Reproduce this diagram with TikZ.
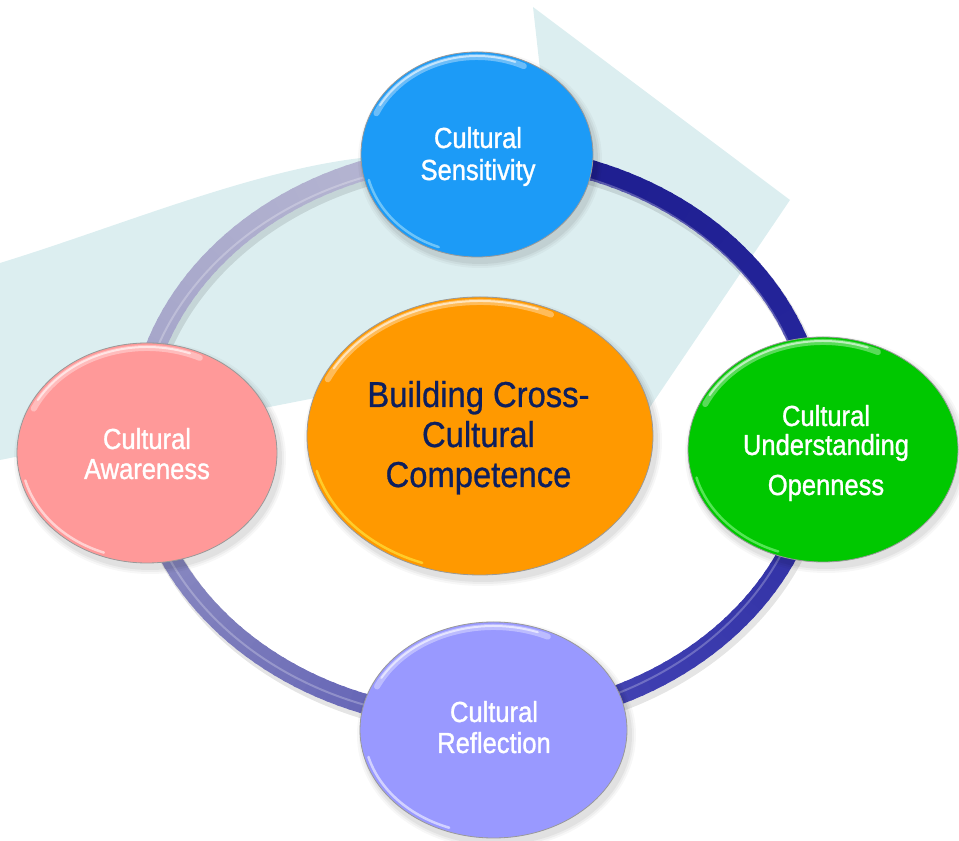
\documentclass[tikz,border=0pt]{standalone}
\usepackage{fontspec}
\setmainfont{Liberation Sans}
\newfontfamily\labelfont[FakeBold=1.2]{Liberation Sans}
\newfontfamily\titlefont[FakeBold=0.8]{Liberation Sans}
\usetikzlibrary{shapes.geometric}

\definecolor{arrowbg}{HTML}{DCEEF0}
\definecolor{titlenavy}{HTML}{0D1F5E}
\definecolor{sensblue}{HTML}{1C9BF7}
\definecolor{centerorange}{HTML}{FF9900}
\definecolor{undergreen}{HTML}{00C800}
\definecolor{awarepink}{HTML}{FF9999}
\definecolor{reflavender}{HTML}{9999FF}
% ring colour stops, light (upper left) to dark (upper right)
\definecolor{ringA}{HTML}{B6B6D2}
\definecolor{ringB}{HTML}{A6A6CA}
\definecolor{ringC}{HTML}{7676BA}
\definecolor{ringD}{HTML}{3E3EB0}
\definecolor{ringE}{HTML}{24249A}
\definecolor{ringF}{HTML}{1C1C8C}

\newcommand\narrowtext[2]{\scalebox{#1}[1]{#2}}

% glossy bubble: name, centre x, centre y, x radius, y radius, fill, rim colour
\newcommand\bubble[7]{%
  \foreach \s/\o in {6/0.03,4/0.04,2/0.05}
    \fill[black, opacity=\o] (#2+3,#3-5) ellipse[x radius=#4+\s, y radius=#5+\s];
  \node[ellipse, draw=black!40, line width=.8pt, fill=#6,
        minimum width=2*#4, minimum height=2*#5, inner sep=0pt] (#1) at (#2,#3) {};
  \pgfmathsetmacro\rxa{#4-5}\pgfmathsetmacro\rya{#5-5}%
  \pgfmathsetmacro\rxb{#4-4}\pgfmathsetmacro\ryb{#5-4}%
  \draw[white, opacity=.35, line width=6pt, line cap=round]
    ([shift={(#2,#3)}]65:\rxa pt and \rya pt) arc[start angle=65, end angle=155, x radius=\rxa, y radius=\rya];
  \draw[white, opacity=.6, line width=2pt, line cap=round]
    ([shift={(#2,#3)}]70:\rxb pt and \ryb pt) arc[start angle=70, end angle=150, x radius=\rxb, y radius=\ryb];
  \draw[#7, opacity=.55, line width=2.5pt, line cap=round]
    ([shift={(#2,#3)}]195:\rxb pt and \ryb pt) arc[start angle=195, end angle=250, x radius=\rxb, y radius=\ryb];
}

\tikzset{
  ringseg/.style={line width=20pt, line cap=butt},
  titletext/.style={font=\titlefont\fontsize{36}{40}\selectfont, text=titlenavy, inner sep=0pt, anchor=base},
  lbl/.style={font=\labelfont\fontsize{29}{31}\selectfont, text=white, inner sep=0pt, anchor=base},
}

\begin{document}
\begin{tikzpicture}[x=1pt,y=1pt]
\useasboundingbox (0,0) rectangle (959,841);

% broad pale arrow behind everything
\fill[arrowbg] (0,578) .. controls (120,615) and (250,670) .. (361,683)
  -- (545,727) -- (533,834) -- (790,641) -- (650,434) -- (560,391)
  -- (315,443) -- (0,381) -- cycle;

% ring shadow
\draw[black, opacity=.10, line width=22pt] (481,399) ellipse[x radius=340, y radius=283];

% ring, shaded from light to dark going anticlockwise
\foreach \a [evaluate=\a as \p using {int(100*(\a-100)/60)}] in {100,102,...,158}
  \draw[ringseg, draw=ringB!\p!ringA] ([shift={(478,404)}]\a:340pt and 283pt) arc[start angle=\a, delta angle=2.6, x radius=340, y radius=283];
\foreach \a [evaluate=\a as \p using {int(100*(\a-160)/70)}] in {160,162,...,228}
  \draw[ringseg, draw=ringC!\p!ringB] ([shift={(478,404)}]\a:340pt and 283pt) arc[start angle=\a, delta angle=2.6, x radius=340, y radius=283];
\foreach \a [evaluate=\a as \p using {int(100*(\a-230)/70)}] in {230,232,...,298}
  \draw[ringseg, draw=ringD!\p!ringC] ([shift={(478,404)}]\a:340pt and 283pt) arc[start angle=\a, delta angle=2.6, x radius=340, y radius=283];
\foreach \a [evaluate=\a as \p using {int(100*(\a-300)/80)}] in {300,302,...,378}
  \draw[ringseg, draw=ringE!\p!ringD] ([shift={(478,404)}]\a:340pt and 283pt) arc[start angle=\a, delta angle=2.6, x radius=340, y radius=283];
\foreach \a [evaluate=\a as \p using {int(100*(\a-380)/70)}] in {380,382,...,448}
  \draw[ringseg, draw=ringF!\p!ringE] ([shift={(478,404)}]\a:340pt and 283pt) arc[start angle=\a, delta angle=2.6, x radius=340, y radius=283];
% tube highlight
\draw[white, opacity=.25, line width=2pt] (474,400) ellipse[x radius=336, y radius=279];

% bubbles
\bubble{sens}{477}{686.5}{116}{102.5}{sensblue}{cyan!30}
\bubble{aware}{147}{388}{130}{110}{awarepink}{white}
\bubble{under}{823}{391.5}{135}{112.5}{undergreen}{green!40!white}
\bubble{refl}{493.5}{111}{133.5}{108}{reflavender}{white}
\bubble{core}{480}{405}{173}{139}{centerorange}{yellow!70!white}

% centre title
\node[titletext] (title1) at (478.5,434) {\narrowtext{.91}{Building Cross-}};
\node[titletext] (title2) at (478.5,394) {\narrowtext{.91}{Cultural}};
\node[titletext] (title3) at (478.5,354) {\narrowtext{.91}{Competence}};

% bubble labels
\node[lbl] (sens1) at (478,693) {\narrowtext{.88}{Cultural}};
\node[lbl] (sens2) at (478,661) {\narrowtext{.88}{Sensitivity}};
\node[lbl] (aware1) at (147,392) {\narrowtext{.88}{Cultural}};
\node[lbl] (aware2) at (147,362) {\narrowtext{.88}{Awareness}};
\node[lbl] (under1) at (826,415) {\narrowtext{.88}{Cultural}};
\node[lbl] (under2) at (826,386) {\narrowtext{.88}{Understanding}};
\node[lbl] (under3) at (826,346) {\narrowtext{.88}{Openness}};
\node[lbl] (refl1) at (494,119) {\narrowtext{.88}{Cultural}};
\node[lbl] (refl2) at (494,88) {\narrowtext{.88}{Reflection}};
\end{tikzpicture}
\end{document}
